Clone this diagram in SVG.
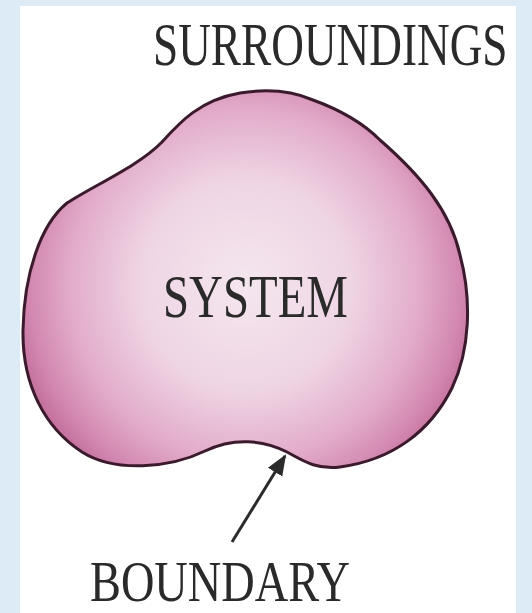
<svg xmlns="http://www.w3.org/2000/svg" width="532" height="613" viewBox="0 0 532 613">
  <defs>
    <radialGradient id="blobFill" gradientUnits="userSpaceOnUse" cx="245" cy="285" r="235">
      <stop offset="0" stop-color="#f4e6ee"/>
      <stop offset="0.45" stop-color="#efd5e4"/>
      <stop offset="0.75" stop-color="#e2abc9"/>
      <stop offset="0.92" stop-color="#d287b0"/>
      <stop offset="1" stop-color="#c5729e"/>
    </radialGradient>
    <marker id="arrowHead" viewBox="0 0 10 10" refX="9" refY="5" markerWidth="7" markerHeight="7" markerUnits="strokeWidth" orient="auto">
      <path d="M0,1 L10,5 L0,9 Z" fill="#2b2b2b"/>
    </marker>
    <style>
      .label { font-family: "Liberation Serif", "Times New Roman", serif; fill: #2a2a2a; }
    </style>
  </defs>
  <rect x="0" y="0" width="532" height="613" fill="#dcebf6"/>
  <rect x="20" y="6" width="496" height="607" fill="#ffffff"/>

  <g id="system">
    <path d="M 67,203 C 95,185 140,165 162,142 C 180,122 200,100 240,93 C 265,89 290,90 313,100 C 335,108 360,120 380,140 C 420,175 450,210 460,255 C 472,300 470,350 452,388 C 430,432 392,460 340,467 C 316,470 302,460 287,452 C 264,440 234,437 205,451 C 170,468 115,473 82,452 C 45,428 22,385 23,330 C 24,275 40,225 67,203 Z" fill="url(#blobFill)" stroke="#3a1a2c" stroke-width="3"/>
    <text class="label" x="163" y="317" font-size="62" textLength="185" lengthAdjust="spacingAndGlyphs">SYSTEM</text>
  </g>

  <g id="surroundings">
    <text class="label" transform="translate(153,65) scale(0.73,1)" x="0" y="0" font-size="62">SURROUNDINGS</text>
  </g>

  <g id="boundary">
    <text class="label" x="90" y="601" font-size="58" textLength="260" lengthAdjust="spacingAndGlyphs">BOUNDARY</text>
  </g>

  <g id="connectors">
    <line x1="232" y1="542" x2="285" y2="456" stroke="#2b2b2b" stroke-width="3" marker-end="url(#arrowHead)"/>
  </g>
</svg>
